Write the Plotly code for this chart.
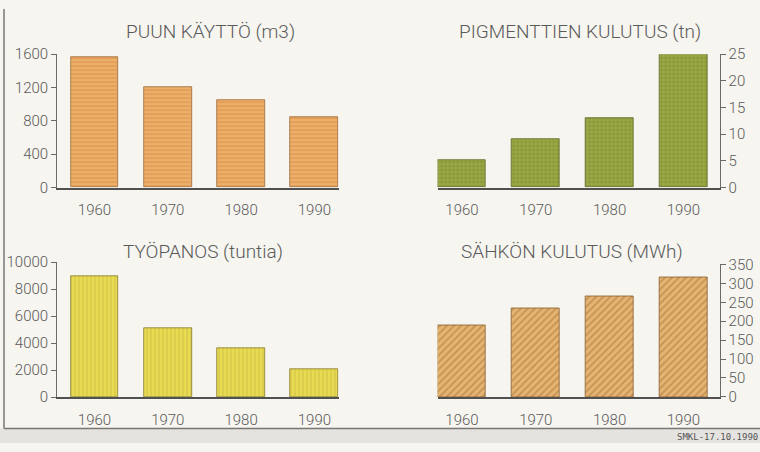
import plotly.graph_objects as go

years = ["1960", "1970", "1980", "1990"]
puu = [1560, 1210, 1045, 850]
pigmentti = [5.1, 9.0, 13.1, 25.0]
tyo = [8950, 5100, 3600, 2100]
sahko = [190, 235, 265, 315]

titles = ["PUUN KÄYTTÖ (m3)", "PIGMENTTIEN KULUTUS (tn)", "TYÖPANOS (tuntia)", "SÄHKÖN KULUTUS (MWh)"]
ticks_puu = [0, 400, 800, 1200, 1600]
ticks_pig = [0, 5, 10, 15, 20, 25]
ticks_tyo = [0, 2000, 4000, 6000, 8000, 10000]
ticks_sah = [0, 50, 100, 150, 200, 250, 300, 350]

W, H = 760, 452
FONT = "Roboto"
TXT = "#5a5a5a"
AX = "#6a6a6a"

def px(x):
    return x / W

def py(y):
    return 1 - y / H

fig = go.Figure()

specs = [
    dict(y=puu, xa="x", ya="y", shape="-", bg="#e59f58", fg="#f5cf92", sol=0.35, size=4, line="#9a6a38"),
    dict(y=pigmentti, xa="x2", ya="y2", shape="+", bg="#8a9836", fg="#cbd47e", sol=0.3, size=4, line="#5a6624"),
    dict(y=tyo, xa="x3", ya="y3", shape="|", bg="#e9dc52", fg="#b0a23a", sol=0.25, size=4, line="#857a2c"),
    dict(y=sahko, xa="x4", ya="y4", shape="/", bg="#e6b472", fg="#a47436", sol=0.35, size=5, line="#855c2c"),
]
for s in specs:
    fig.add_trace(go.Bar(
        x=years, y=s["y"], xaxis=s["xa"], yaxis=s["ya"], width=0.65,
        marker=dict(color=s["bg"],
                    pattern=dict(shape=s["shape"], bgcolor=s["bg"], fgcolor=s["fg"],
                                 size=s["size"], solidity=s["sol"], fillmode="overlay"),
                    line=dict(color=s["line"], width=0.8)),
        showlegend=False, hoverinfo="skip"))

def xaxis(dom, rng, anchor):
    return dict(domain=dom, range=rng, anchor=anchor, type="category",
                showline=True, linecolor="#505050", linewidth=1.5,
                ticks="outside", ticklen=8, tickcolor="rgba(0,0,0,0)",
                showgrid=False, zeroline=False,
                tickfont=dict(family=FONT, size=15, color=TXT, weight=300))

def yaxis(dom, rng, tv, anchor, side):
    return dict(domain=dom, range=rng, anchor=anchor, side=side,
                tickvals=tv, ticktext=[str(v) for v in tv],
                showline=True, linecolor=AX, linewidth=1,
                ticks="outside", ticklen=5, tickcolor=AX, tickwidth=1,
                showgrid=False, zeroline=False,
                tickfont=dict(family=FONT, size=15, color=TXT, weight=300))

fig.update_layout(
    width=W, height=H,
    margin=dict(l=0, r=0, t=0, b=0),
    paper_bgcolor="#f6f5f0", plot_bgcolor="rgba(0,0,0,0)",
    bargap=0,
    xaxis=xaxis([px(57.1), px(338.6)], [-0.51, 3.33], "y"),
    yaxis=yaxis([py(186), py(47)], [0, 1600], ticks_puu, "x", "left"),
    xaxis2=xaxis([px(437.6), px(719.6)], [-0.33, 3.49], "y2"),
    yaxis2=yaxis([py(186), py(47)], [0, 25], ticks_pig, "x2", "right"),
    xaxis3=xaxis([px(57.1), px(338.6)], [-0.51, 3.33], "y3"),
    yaxis3=yaxis([py(404.3), py(263.7)], [0, 10000], ticks_tyo, "x3", "left"),
    xaxis4=xaxis([px(437.6), px(719.6)], [-0.33, 3.49], "y4"),
    yaxis4=yaxis([py(404), py(266)], [0, 350], ticks_sah, "x4", "right"),
)

title_pos = [(210, 23), (580, 23), (203, 253), (572, 253)]
for t, (x, y) in zip(titles, title_pos):
    fig.add_annotation(text=t, x=px(x), y=py(y), xref="paper", yref="paper",
                       showarrow=False, xanchor="center", yanchor="middle",
                       font=dict(family=FONT, size=19, color=TXT, weight=300))

# frame and lower strip
fig.add_shape(type="rect", xref="paper", yref="paper", x0=0, x1=1, y0=0, y1=py(437),
              fillcolor="#e4e3df", line=dict(width=0), layer="below")
fig.add_shape(type="line", xref="paper", yref="paper", x0=px(4), x1=1, y0=py(437), y1=py(437),
              line=dict(color="#777", width=1.5))
fig.add_shape(type="line", xref="paper", yref="paper", x0=px(4), x1=px(4), y0=py(437), y1=1,
              line=dict(color="#777", width=1.5))
fig.add_annotation(text="SMKL-17.10.1990", x=1, y=py(446), xref="paper", yref="paper",
                   showarrow=False, xanchor="right", yanchor="middle",
                   font=dict(family="DejaVu Sans Mono", size=9, color="#555"))

fig.write_html("out.html", config={"displayModeBar": False},
               post_script="document.body.style.margin='0';document.body.style.overflow='hidden';")
